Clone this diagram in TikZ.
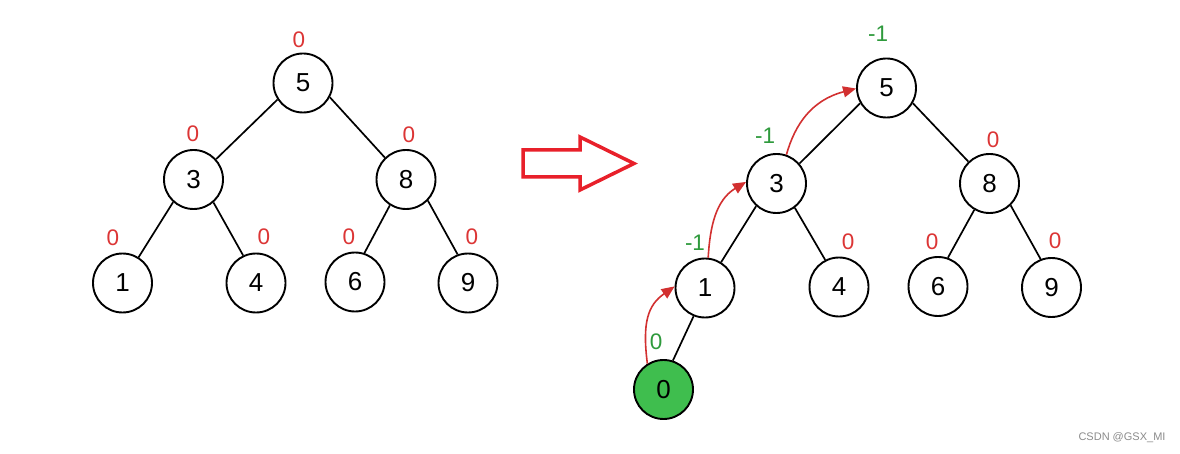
\documentclass[tikz,border=0pt]{standalone}
\usepackage{fontspec}
\setmainfont{Liberation Sans}
\usetikzlibrary{arrows.meta}
\definecolor{lblred}{HTML}{DC3535}
\definecolor{lblgreen}{HTML}{2E9A3C}
\definecolor{fillgreen}{HTML}{3FBE4E}
\definecolor{arrred}{HTML}{D23030}
\definecolor{bigred}{HTML}{E8202A}
\tikzset{
  tnode/.style={circle,draw=black,line width=1.9pt,minimum size=59pt,inner sep=0pt,font=\fontsize{26}{26}\selectfont},
  tedge/.style={draw=black,line width=1.7pt},
  redlbl/.style={text=lblred,font=\fontsize{22.5}{22.5}\selectfont,inner sep=0pt},
  greenlbl/.style={text=lblgreen,font=\fontsize{22.5}{22.5}\selectfont,inner sep=0pt},
  path arrow/.style={draw=arrred,line width=1.6pt,-{Triangle[length=13pt,width=11pt]}},
  bigarrow/.style={draw=bigred,line width=3.5pt,line join=miter}
}
\begin{document}
\begin{tikzpicture}[x=1pt,y=-1pt]
\useasboundingbox[fill=white] (0,0) rectangle (1180,454);
% ---------- left tree ----------
\node[tnode] (a5) at (303,83) {5};
\node[tnode] (a3) at (193.5,179.5) {3};
\node[tnode] (a8) at (406,179.5) {8};
\node[tnode] (a1) at (122.5,283) {1};
\node[tnode] (a4) at (256,283) {4};
\node[tnode] (a6) at (355,282) {6};
\node[tnode] (a9) at (468,283) {9};
\draw[tedge] (a5.213) -- (a3.42);
\draw[tedge] (a5.-28) -- (a8.134);
\draw[tedge] (a3.228) -- (a1.58);
\draw[tedge] (a3.-49) -- (a4.115);
\draw[tedge] (a8.238) -- (a6.72);
\draw[tedge] (a8.-44) -- (a9.110);
\node[redlbl] (la5) at (299,40) {0};
\node[redlbl] (la3) at (193,134) {0};
\node[redlbl] (la8) at (409,135) {0};
\node[redlbl] (la1) at (113,238) {0};
\node[redlbl] (la4) at (264,237) {0};
\node[redlbl] (la6) at (349,237) {0};
\node[redlbl] (la9) at (472,237) {0};
% ---------- big arrow ----------
\draw[bigarrow] (523,150) -- (580,150) -- (580,137) -- (634,163.5) -- (580,190) -- (580,177) -- (523,177) -- cycle;
% ---------- right tree ----------
\node[tnode] (b5) at (886.5,88) {5};
\node[tnode] (b3) at (776.5,183.5) {3};
\node[tnode] (b8) at (989.5,183.5) {8};
\node[tnode] (b1) at (705,288) {1};
\node[tnode] (b4) at (839,287) {4};
\node[tnode] (b6) at (938,286.5) {6};
\node[tnode] (b9) at (1051.5,287.5) {9};
\node[tnode,fill=fillgreen] (b0) at (663.5,389.5) {0};
\draw[tedge] (b5.210) -- (b3.41);
\draw[tedge] (b5.-30) -- (b8.134);
\draw[tedge] (b3.228) -- (b1.58);
\draw[tedge] (b3.-53) -- (b4.117);
\draw[tedge] (b8.240) -- (b6.71);
\draw[tedge] (b8.-46) -- (b9.111);
\draw[tedge] (b1.248) -- (b0.72);
\node[greenlbl] (lb5) at (878,34) {-1};
\node[greenlbl] (lb3) at (765,136) {-1};
\node[redlbl] (lb8) at (993,140) {0};
\node[greenlbl] (lb1) at (695,243) {-1};
\node[redlbl] (lb4) at (848,242) {0};
\node[redlbl] (lb6) at (932,242) {0};
\node[redlbl] (lb9) at (1055,241) {0};
\node[greenlbl] (lb0) at (656,342) {0};
% ---------- path arrows ----------
\draw[path arrow] (b0.122) .. controls (642,322) and (648,305) .. (b1.177);
\draw[path arrow] (b1.84) .. controls (710,226) and (716,200) .. (b3.177);
\draw[path arrow] (b3.71) .. controls (795,124) and (812,100) .. (b5.181);
% ---------- watermark ----------
\node[text=black!45,font=\fontsize{11}{11}\selectfont,inner sep=0pt] (wm) at (1122,438) {CSDN @GSX\_MI};
\end{tikzpicture}
\end{document}
